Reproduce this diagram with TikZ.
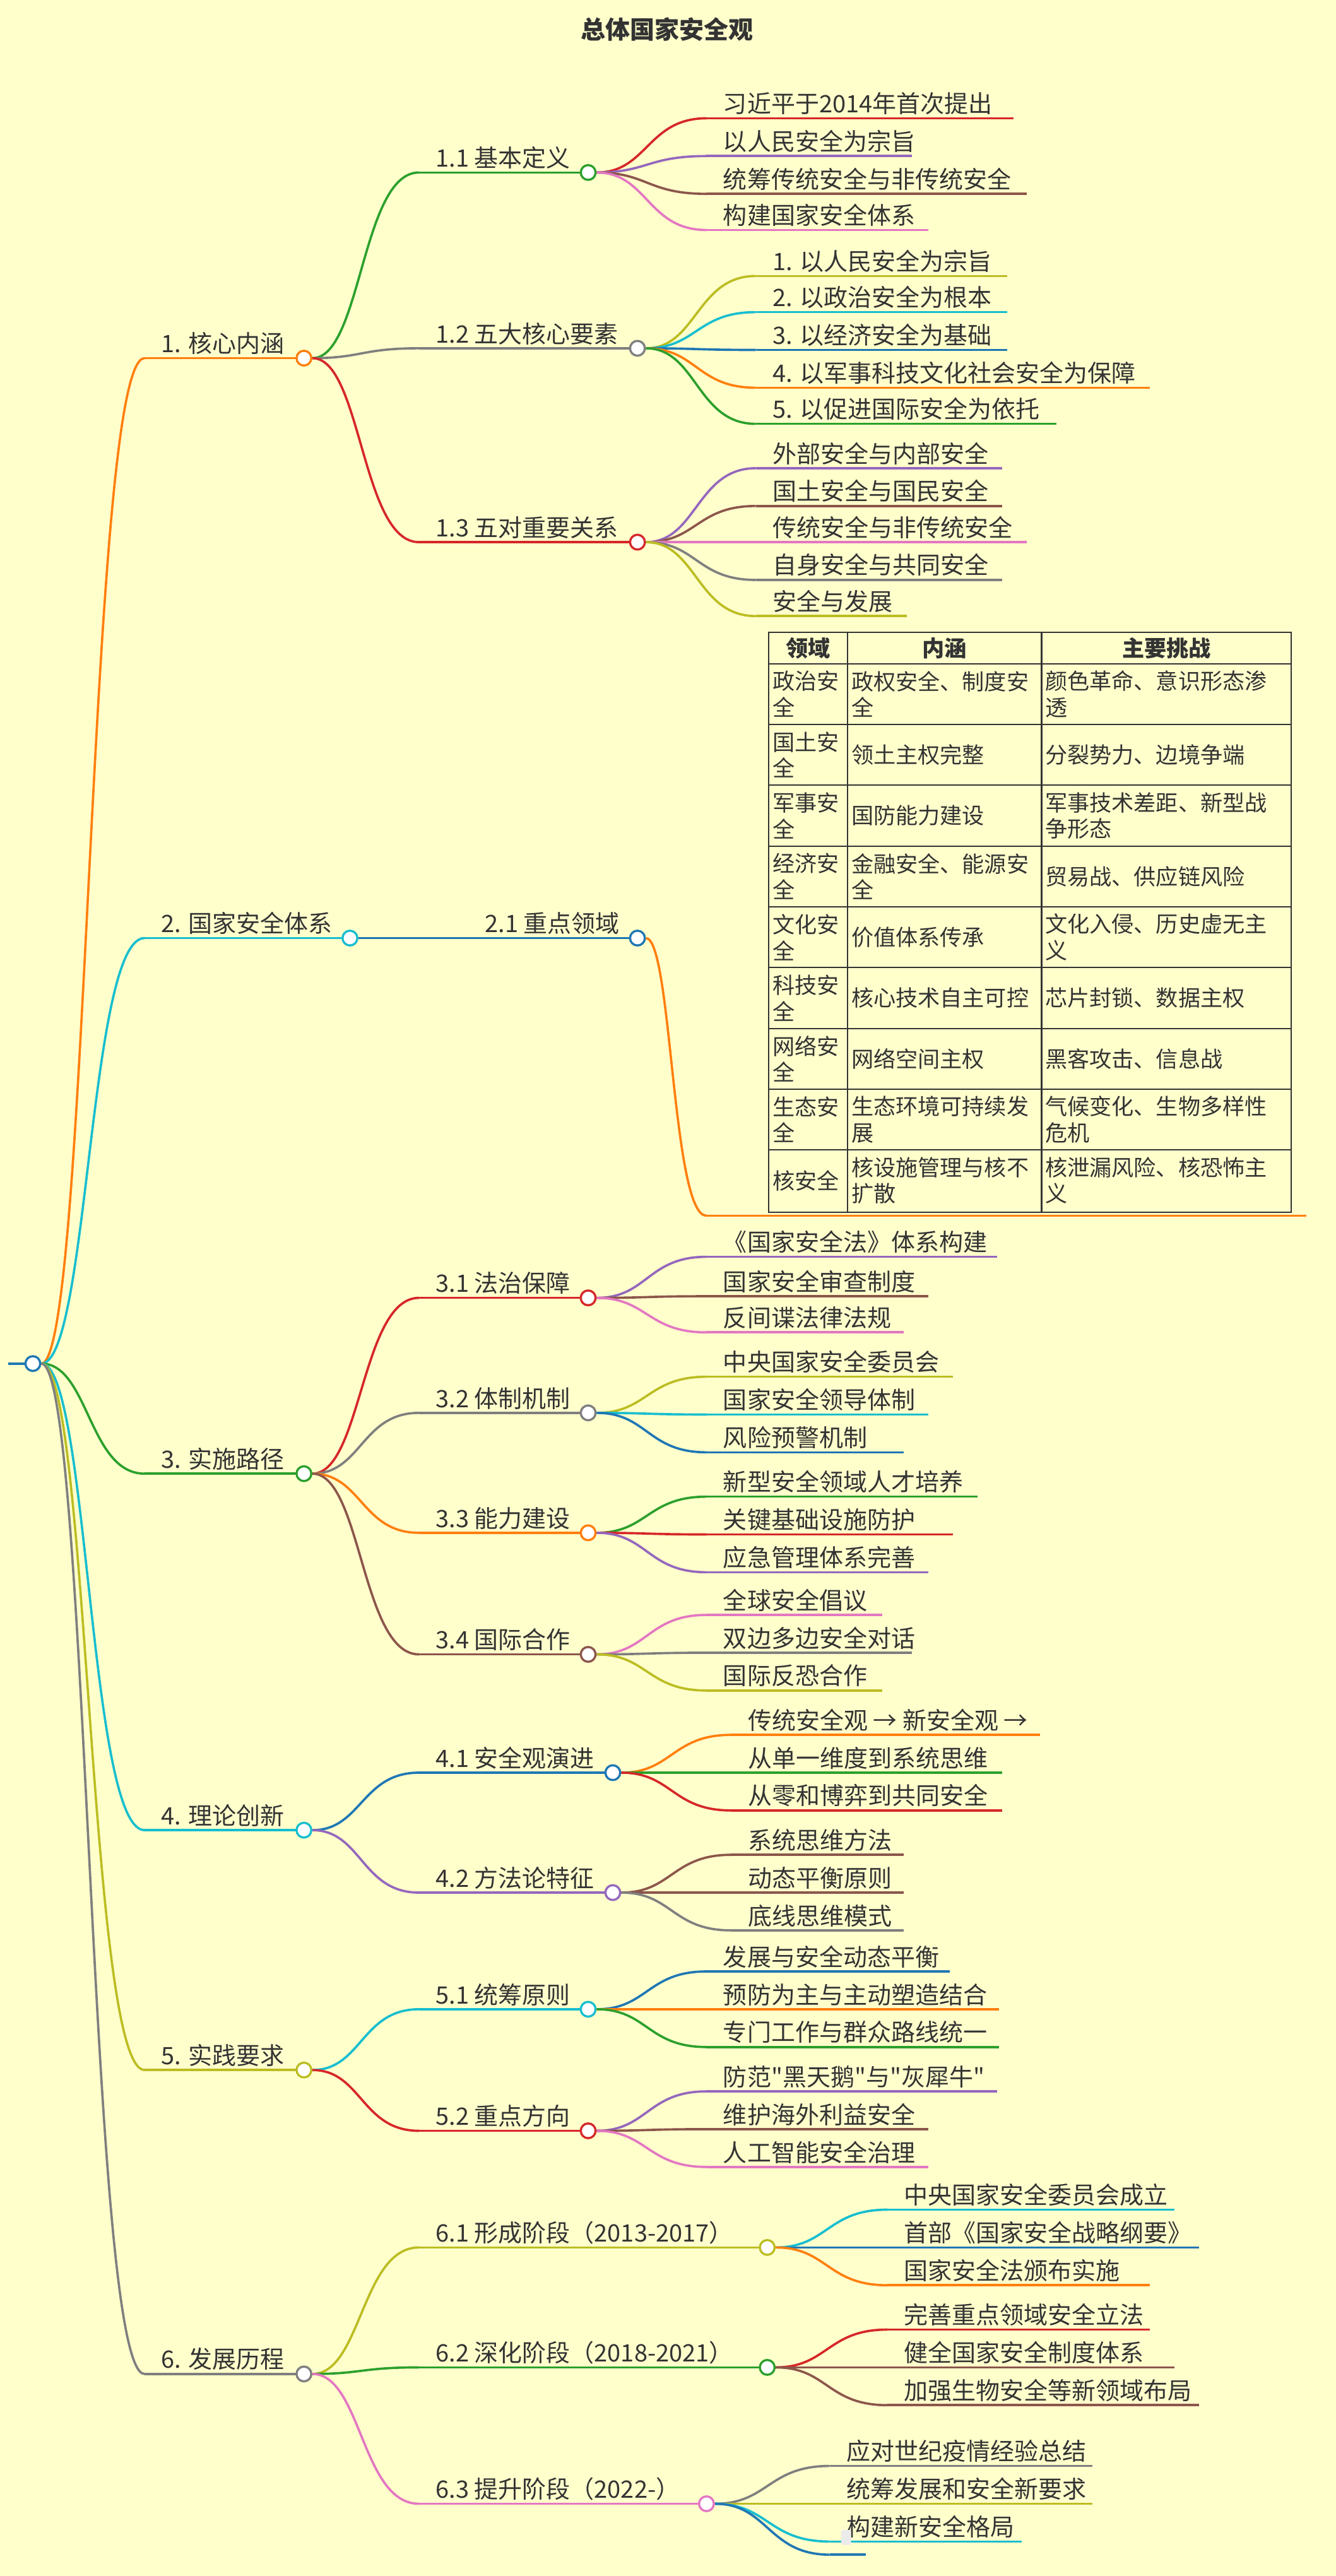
\documentclass[tikz,border=0pt]{standalone}
\usepackage{fontspec}
\setmainfont{Noto Sans CJK SC}[Ligatures=TeXOff]
\usetikzlibrary{calc}
\pgfdeclarelayer{paperlayer}
\pgfdeclarelayer{bg}
\pgfsetlayers{paperlayer,bg,main}

\definecolor{paper}{HTML}{FFFFCC}
\definecolor{ink}{HTML}{333333}
\definecolor{mmorange}{HTML}{FF7F0E}
\definecolor{mmcyan}{HTML}{17BECF}
\definecolor{mmgreen}{HTML}{2CA02C}
\definecolor{mmgray}{HTML}{7F7F7F}
\definecolor{mmred}{HTML}{D62728}
\definecolor{mmpurple}{HTML}{9467BD}
\definecolor{mmbrown}{HTML}{8C564B}
\definecolor{mmpink}{HTML}{E377C2}
\definecolor{mmolive}{HTML}{BCBD22}
\definecolor{mmblue}{HTML}{1F77B4}

\tikzset{
  knob/.style={circle, draw=#1, fill=white, line width=1.3pt, minimum size=9pt, inner sep=0pt},
  wire/.style={draw=#1, line width=1.4pt},
  label/.style={anchor=south west, inner sep=2pt, text=ink, font=\fontsize{14.6}{16}\selectfont},
  cell/.style={anchor=west, inner sep=1pt, text=ink, align=left, font=\fontsize{13.5}{16}\selectfont},
}

% curve from a parent knob to the start of a child line
\newcommand\curve[3]{%
  \begin{pgfonlayer}{bg}
  \draw[wire=#1] let \p1=(#2), \p2=(#3) in (#2) .. controls ({(\x1+\x2)/2},\y1) and ({(\x1+\x2)/2},\y2) .. (#3);
  \end{pgfonlayer}}
% \branch{parent}{name}{colour}{start x}{y}{end x}{text}
\newcommand\branch[7]{%
  \coordinate (#2-s) at (#4,#5);
  \curve{#3}{#1}{#2-s}
  \begin{pgfonlayer}{bg}\draw[wire=#3] (#2-s) -- (#6,#5);\end{pgfonlayer}
  \node[label] (#2-t) at ($(#2-s)+(8,0)$) {#7};
  \node[knob=#3] (#2) at (#6,#5) {};}
% \leaf{parent}{name}{colour}{start x}{y}{end x}{text}
\newcommand\leaf[7]{%
  \coordinate (#2-s) at (#4,#5);
  \curve{#3}{#1}{#2-s}
  \begin{pgfonlayer}{bg}\draw[wire=#3] (#2-s) -- (#6,#5);\end{pgfonlayer}
  \node[label] (#2) at ($(#2-s)+(8,0)$) {#7};}

\begin{document}
\begin{tikzpicture}[x=1pt, y=-1pt]
  \begin{pgfonlayer}{paperlayer}\fill[paper] (0,0) rectangle (813,1568);\end{pgfonlayer}
  \useasboundingbox (0,0) rectangle (813,1568);
  \node[text=ink, font=\fontsize{15}{18}\selectfont\bfseries] (title) at (406,18) {总体国家安全观};

  % root
  \node[knob=mmblue] (root) at (20,830) {};
  \begin{pgfonlayer}{bg}\draw[wire=mmblue] (5,830) -- (root);\end{pgfonlayer}

  % level 1
  \branch{root}{a}{mmorange}{88}{218}{185}{1. 核心内涵}
  \branch{root}{b}{mmcyan}{88}{571}{213}{2. 国家安全体系}
  \branch{root}{c}{mmgreen}{88}{897}{185}{3. 实施路径}
  \branch{root}{d}{mmcyan}{88}{1114}{185}{4. 理论创新}
  \branch{root}{e}{mmolive}{88}{1260}{185}{5. 实践要求}
  \branch{root}{f}{mmgray}{88}{1445}{185}{6. 发展历程}

  % 1. core
  \branch{a}{a1}{mmgreen}{255}{105}{358}{1.1 基本定义}
  \leaf{a1}{a11}{mmred}{430}{72}{617}{习近平于2014年首次提出}
  \leaf{a1}{a12}{mmpurple}{430}{95}{555}{以人民安全为宗旨}
  \leaf{a1}{a13}{mmbrown}{430}{118}{625}{统筹传统安全与非传统安全}
  \leaf{a1}{a14}{mmpink}{430}{140}{565}{构建国家安全体系}
  \branch{a}{a2}{mmgray}{255}{212}{388}{1.2 五大核心要素}
  \leaf{a2}{a21}{mmolive}{460}{168}{613}{1. 以人民安全为宗旨}
  \leaf{a2}{a22}{mmcyan}{460}{190}{613}{2. 以政治安全为根本}
  \leaf{a2}{a23}{mmblue}{460}{213}{613}{3. 以经济安全为基础}
  \leaf{a2}{a24}{mmorange}{460}{236}{700}{4. 以军事科技文化社会安全为保障}
  \leaf{a2}{a25}{mmgreen}{460}{258}{643}{5. 以促进国际安全为依托}
  \branch{a}{a3}{mmred}{255}{330}{388}{1.3 五对重要关系}
  \leaf{a3}{a31}{mmpurple}{460}{285}{610}{外部安全与内部安全}
  \leaf{a3}{a32}{mmbrown}{460}{308}{610}{国土安全与国民安全}
  \leaf{a3}{a33}{mmpink}{460}{330}{625}{传统安全与非传统安全}
  \leaf{a3}{a34}{mmgray}{460}{353}{610}{自身安全与共同安全}
  \leaf{a3}{a35}{mmolive}{460}{375}{552}{安全与发展}

  % 2. system
  \branch{b}{b1}{mmblue}{285}{571}{388}{2.1 重点领域}
  \coordinate (b11-s) at (430,740);
  \curve{mmorange}{b1}{b11-s}
  \begin{pgfonlayer}{bg}\draw[wire=mmorange] (b11-s) -- (795,740);\end{pgfonlayer}
  \draw[ink, line width=0.8pt] (468,385) rectangle (786,738);
  \foreach \cx in {516,634} \draw[ink, line width=0.8pt] (\cx,385) -- (\cx,738);
  \foreach \ry in {404,441,478,515,552,589,626,663,700} \draw[ink, line width=0.8pt] (468,\ry) -- (786,\ry);
  \node[cell, font=\fontsize{13.5}{16}\selectfont\bfseries, anchor=center] (h1) at (492,394.5) {领域};
  \node[cell, font=\fontsize{13.5}{16}\selectfont\bfseries, anchor=center] (h2) at (575,394.5) {内涵};
  \node[cell, font=\fontsize{13.5}{16}\selectfont\bfseries, anchor=center] (h3) at (710,394.5) {主要挑战};
  \foreach \r/\ca/\cb [count=\i] in {
      {政治安\\全}/{政权安全、制度安\\全}/{颜色革命、意识形态渗\\透},
      {国土安\\全}/{领土主权完整}/{分裂势力、边境争端},
      {军事安\\全}/{国防能力建设}/{军事技术差距、新型战\\争形态},
      {经济安\\全}/{金融安全、能源安\\全}/{贸易战、供应链风险},
      {文化安\\全}/{价值体系传承}/{文化入侵、历史虚无主\\义},
      {科技安\\全}/{核心技术自主可控}/{芯片封锁、数据主权},
      {网络安\\全}/{网络空间主权}/{黑客攻击、信息战},
      {生态安\\全}/{生态环境可持续发\\展}/{气候变化、生物多样性\\危机},
      {核安全}/{核设施管理与核不\\扩散}/{核泄漏风险、核恐怖主\\义}} {
    \node[cell] (t\i a) at (469,{404+37*(\i-0.5)}) {\r};
    \node[cell] (t\i b) at (517,{404+37*(\i-0.5)}) {\ca};
    \node[cell] (t\i c) at (635,{404+37*(\i-0.5)}) {\cb};
  }

  % 3. paths
  \branch{c}{c1}{mmred}{255}{790}{358}{3.1 法治保障}
  \leaf{c1}{c11}{mmpurple}{430}{765}{607}{《国家安全法》体系构建}
  \leaf{c1}{c12}{mmbrown}{430}{789}{565}{国家安全审查制度}
  \leaf{c1}{c13}{mmpink}{430}{811}{550}{反间谍法律法规}
  \branch{c}{c2}{mmgray}{255}{860}{358}{3.2 体制机制}
  \leaf{c2}{c21}{mmolive}{430}{838}{580}{中央国家安全委员会}
  \leaf{c2}{c22}{mmcyan}{430}{861}{565}{国家安全领导体制}
  \leaf{c2}{c23}{mmblue}{430}{884}{550}{风险预警机制}
  \branch{c}{c3}{mmorange}{255}{933}{358}{3.3 能力建设}
  \leaf{c3}{c31}{mmgreen}{430}{911}{595}{新型安全领域人才培养}
  \leaf{c3}{c32}{mmred}{430}{934}{580}{关键基础设施防护}
  \leaf{c3}{c33}{mmpurple}{430}{957}{565}{应急管理体系完善}
  \branch{c}{c4}{mmbrown}{255}{1007}{358}{3.4 国际合作}
  \leaf{c4}{c41}{mmpink}{430}{983}{537}{全球安全倡议}
  \leaf{c4}{c42}{mmgray}{430}{1006}{555}{双边多边安全对话}
  \leaf{c4}{c43}{mmolive}{430}{1029}{537}{国际反恐合作}

  % 4. theory
  \branch{d}{d1}{mmblue}{255}{1079}{373}{4.1 安全观演进}
  \leaf{d1}{d11}{mmorange}{445}{1056}{633}{传统安全观 → 新安全观 →}
  \leaf{d1}{d12}{mmgreen}{445}{1079}{610}{从单一维度到系统思维}
  \leaf{d1}{d13}{mmred}{445}{1102}{610}{从零和博弈到共同安全}
  \branch{d}{d2}{mmpurple}{255}{1152}{373}{4.2 方法论特征}
  \leaf{d2}{d21}{mmbrown}{445}{1129}{550}{系统思维方法}
  \leaf{d2}{d22}{mmbrown}{445}{1152}{550}{动态平衡原则}
  \leaf{d2}{d23}{mmgray}{445}{1175}{550}{底线思维模式}

  % 5. practice
  \branch{e}{e1}{mmcyan}{255}{1223}{358}{5.1 统筹原则}
  \leaf{e1}{e11}{mmblue}{430}{1200}{578}{发展与安全动态平衡}
  \leaf{e1}{e12}{mmorange}{430}{1223}{608}{预防为主与主动塑造结合}
  \leaf{e1}{e13}{mmgreen}{430}{1246}{608}{专门工作与群众路线统一}
  \branch{e}{e2}{mmred}{255}{1297}{358}{5.2 重点方向}
  \leaf{e2}{e21}{mmpurple}{430}{1273}{607}{防范"黑天鹅"与"灰犀牛"}
  \leaf{e2}{e22}{mmbrown}{430}{1296}{565}{维护海外利益安全}
  \leaf{e2}{e23}{mmpink}{430}{1319}{565}{人工智能安全治理}

  % 6. history
  \branch{f}{f1}{mmolive}{255}{1368}{467}{6.1 形成阶段（2013-2017）}
  \leaf{f1}{f11}{mmcyan}{540}{1345}{715}{中央国家安全委员会成立}
  \leaf{f1}{f12}{mmblue}{540}{1368}{730}{首部《国家安全战略纲要》}
  \leaf{f1}{f13}{mmorange}{540}{1391}{700}{国家安全法颁布实施}
  \branch{f}{f2}{mmgreen}{255}{1441}{467}{6.2 深化阶段（2018-2021）}
  \leaf{f2}{f21}{mmred}{540}{1418}{700}{完善重点领域安全立法}
  \leaf{f2}{f22}{mmbrown}{540}{1441}{715}{健全国家安全制度体系}
  \leaf{f2}{f23}{mmbrown}{540}{1464}{730}{加强生物安全等新领域布局}
  \branch{f}{f3}{mmpink}{255}{1524}{430}{6.3 提升阶段（2022-）}
  \leaf{f3}{f31}{mmgray}{505}{1501}{665}{应对世纪疫情经验总结}
  \leaf{f3}{f32}{mmolive}{505}{1524}{665}{统筹发展和安全新要求}
  \leaf{f3}{f33}{mmcyan}{505}{1547}{622}{构建新安全格局}
  \leaf{f3}{f34}{mmblue}{505}{1555}{527}{}
  \fill[black!8, rounded corners=1pt] (512,1540) rectangle (518,1549);
\end{tikzpicture}
\end{document}
